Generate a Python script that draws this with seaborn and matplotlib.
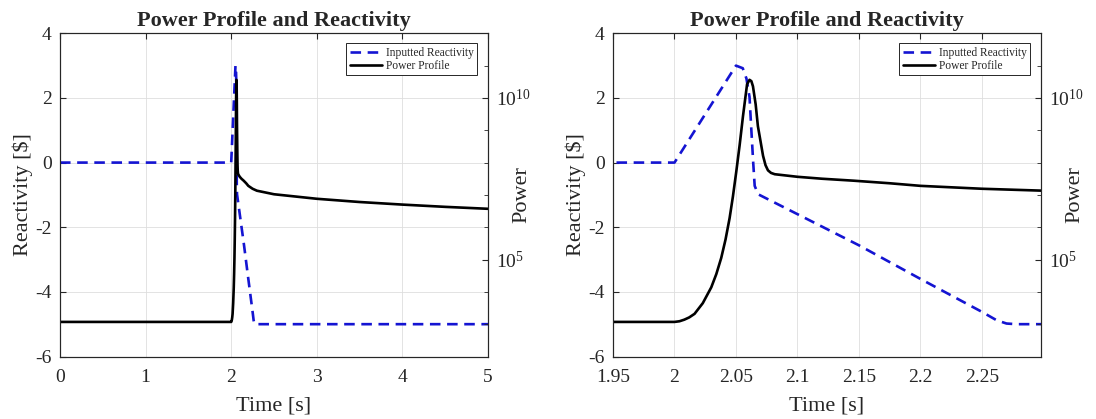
import matplotlib
matplotlib.use('Agg')
import matplotlib.pyplot as plt
import numpy as np
import pandas as pd
import seaborn as sns
from matplotlib.ticker import FixedLocator, NullFormatter, LogFormatterSciNotation, FuncFormatter

# inputted reactivity [$] vs time [s]
react_time = [0.0, 2.0, 2.05, 2.0555, 2.0585, 2.061, 2.0625, 2.064, 2.0652, 2.068,
              2.15, 2.2, 2.25, 2.262, 2.27, 2.278, 5.0]
react_val = [0.0, 0.0, 3.0, 2.92, 2.6, 2.03, 1.0, 0.0, -0.72, -0.98,
             -2.56, -3.6, -4.62, -4.88, -4.98, -5.0, -5.0]

# power profile, read as log10(power)
power_time = [0.0, 2.0, 2.004, 2.008, 2.012, 2.0163, 2.023, 2.0299, 2.034, 2.038,
              2.0415, 2.0448, 2.0475, 2.0502, 2.053, 2.0557, 2.059, 2.061, 2.0625, 2.0638,
              2.066, 2.0678, 2.070, 2.072, 2.074, 2.076, 2.0785, 2.0815, 2.10, 2.12,
              2.1455, 2.175, 2.2, 2.25, 2.3, 2.5, 3.0, 3.5, 4.0, 4.5, 5.0]
power_log10 = [3.07, 3.07, 3.09, 3.14, 3.21, 3.32, 3.65, 4.14, 4.55, 5.05,
               5.62, 6.28, 6.95, 7.71, 8.55, 9.44, 10.42, 10.56, 10.52, 10.36,
               9.8, 9.13, 8.65, 8.21, 7.92, 7.76, 7.68, 7.64, 7.56, 7.5,
               7.44, 7.36, 7.28, 7.19, 7.13, 7.02, 6.88, 6.78, 6.70, 6.63, 6.57]

left_xticks = [0, 1, 2, 3, 4, 5]
right_xticks = [1.95, 2.0, 2.05, 2.1, 2.15, 2.2, 2.25]

react_df = pd.DataFrame({'time': react_time, 'reactivity': react_val})
power_df = pd.DataFrame({'time': power_time, 'power': 10.0 ** np.array(power_log10)})

sns.set_style('white')
plt.rcParams['font.family'] = ['Liberation Serif', 'DejaVu Serif']
plt.rcParams['mathtext.fontset'] = 'stix'
plt.rcParams['axes.unicode_minus'] = False

BLUE = '#1414d2'
W, H = 1096, 419
fig = plt.figure(figsize=(W / 100, H / 100), dpi=100)


def draw_panel(left_px, width_px, xlim, xticks):
    top_px, bottom_px = 33.3, 356.5
    ax = fig.add_axes([left_px / W, 1 - bottom_px / H, width_px / W, (bottom_px - top_px) / H])
    sns.lineplot(data=react_df, x='time', y='reactivity', ax=ax, color=BLUE, lw=1.9,
                 linestyle=(0, (4, 2.5)), estimator=None, legend=False)
    ax2 = ax.twinx()
    sns.lineplot(data=power_df, x='time', y='power', ax=ax2, color='black', lw=1.9,
                 estimator=None, legend=False)

    ax.set_xlim(*xlim)
    ax.set_ylim(-6, 4)
    ax.set_xticks(xticks)
    ax.set_yticks([-6, -4, -2, 0, 2, 4])
    ax.xaxis.set_major_formatter(FuncFormatter(lambda v, p: f'{v:g}'))
    ax.yaxis.set_major_formatter(FuncFormatter(lambda v, p: f'{v:g}'))
    ax.grid(True, color='#dedede', lw=0.6)
    ax.set_axisbelow(True)

    ax2.set_yscale('log')
    ax2.set_ylim(1e2, 1e12)
    ax2.yaxis.set_major_locator(FixedLocator([1e5, 1e10]))
    ax2.yaxis.set_major_formatter(LogFormatterSciNotation())
    ax2.yaxis.set_minor_locator(FixedLocator([10.0 ** k for k in range(2, 13)]))
    ax2.yaxis.set_minor_formatter(NullFormatter())

    ax.tick_params(axis='x', which='both', direction='in', top=True, length=4,
                   labelsize=14, pad=9, color='#262626')
    ax.tick_params(axis='y', direction='in', length=4, labelsize=14, pad=6, color='#262626')
    ax2.tick_params(axis='y', which='major', direction='in', length=4, labelsize=14,
                    pad=6, color='#262626')
    ax2.tick_params(axis='y', which='minor', direction='in', length=3, color='#262626')

    for a in (ax, ax2):
        for s in a.spines.values():
            s.set_color('#262626')
            s.set_linewidth(0.8)

    ax.set_title('Power Profile and Reactivity', fontsize=16, fontweight='bold', pad=5)
    ax.set_xlabel('Time [s]', fontsize=16)
    ax.set_ylabel(r'Reactivity [\$]', fontsize=16)
    ax2.set_ylabel('Power', fontsize=16)
    ax.xaxis.set_label_coords(0.5, -40 / (bottom_px - top_px))
    ax.yaxis.set_label_coords(-27 / width_px, 0.5)
    ax2.yaxis.set_label_coords(1 + 24 / width_px, 0.5)

    handles = [ax.get_lines()[0], ax2.get_lines()[0]]
    labels = ['Inputted Reactivity', 'Power Profile']
    leg = ax2.legend(handles, labels, loc='upper right',
                     bbox_to_anchor=(1 - 11 / width_px, 1 - 10 / (bottom_px - top_px)),
                     borderaxespad=0, fontsize=8.3, frameon=True, fancybox=False,
                     edgecolor='#262626', framealpha=1, handlelength=2.8,
                     handletextpad=0.3, labelspacing=0.1, borderpad=0.3)
    leg.get_frame().set_linewidth(0.7)
    return ax, ax2


draw_panel(60, 428, (0, 5), left_xticks)
draw_panel(613, 428, (1.95, 2.298), right_xticks)

fig.savefig('out.png', dpi=100)
